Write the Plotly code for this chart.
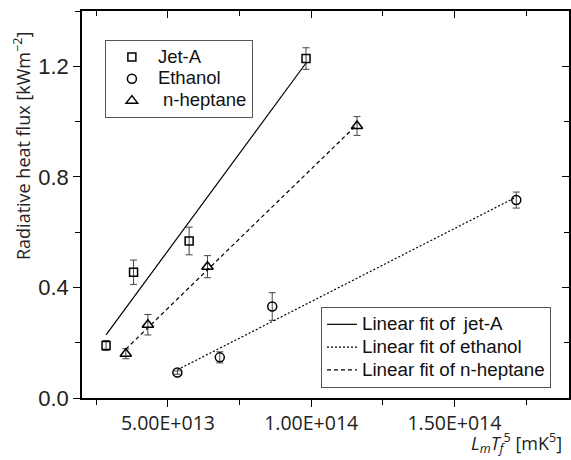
import numpy as np
import plotly.graph_objects as go

# ---- data ----
jet_x = [2.84e13, 3.80e13, 5.74e13, 9.82e13]
jet_y = [0.19, 0.455, 0.568, 1.228]
jet_err = [0.018, 0.044, 0.05, 0.039]

eth_x = [5.33e13, 6.81e13, 8.64e13, 1.716e14]
eth_y = [0.092, 0.147, 0.331, 0.716]
eth_err = [0.006, 0.02, 0.05, 0.029]

hep_x = [3.53e13, 4.30e13, 6.38e13, 1.16e14]
hep_y = [0.16, 0.265, 0.475, 0.984]
hep_err = [0.018, 0.037, 0.04, 0.034]

x_tickvals = [5e13, 1e14, 1.5e14]
x_ticktext = ["5.00E+013", "1.00E+014", "1.50E+014"]
y_tickvals = [0.0, 0.4, 0.8, 1.2]
y_ticktext = ["0.0", "0.4", "0.8", "1.2"]

names = ["Jet-A", "Ethanol", "\u00a0n-heptane"]
fit_names = ["Linear fit of \u2009jet-A", "Linear fit of ethanol", "Linear fit of n-heptane"]

series = [(jet_x, jet_y, jet_err, "square-open", 8),
          (eth_x, eth_y, eth_err, "circle-open", 9),
          (hep_x, hep_y, hep_err, "triangle-up-open", 10)]
dashes = ["solid", "2px,2px", "4px,3px"]


def big(t, px):
    return '<span style="font-size:%gpx">%s</span>' % (px, t)


fig = go.Figure()

for (xs, ys, es, sym, sz), nm in zip(series, names):
    fig.add_trace(go.Scatter(
        x=xs, y=ys, mode="markers", name=big(nm, 18.5), legend="legend",
        marker=dict(symbol=sym, size=sz, color="black", line=dict(width=1.5, color="black")),
        error_y=dict(type="data", array=es, visible=True, color="#444", thickness=1, width=3.5),
    ))

for (xs, ys, es, sym, sz), nm, dsh in zip(series, fit_names, dashes):
    xa = np.array(xs)
    k, b = np.polyfit(xa, np.array(ys), 1)
    xf = np.array([xa.min(), xa.max()])
    fig.add_trace(go.Scatter(
        x=xf, y=k * xf + b, mode="lines", name=big(nm, 18.8), legend="legend2",
        line=dict(color="black", width=1.2, dash=dsh),
    ))

# dummy trace for mirrored (inside) ticks on top/right axes
fig.add_trace(go.Scatter(x=jet_x, y=jet_y, xaxis="x2", yaxis="y2", mode="markers",
                         marker=dict(opacity=0), showlegend=False, hoverinfo="skip"))

xr = [2e13, 1.9e14]
yr = [0, 1.4]

fig.update_layout(
    width=571, height=460,
    margin=dict(l=82, r=2, t=11, b=62),
    paper_bgcolor="white", plot_bgcolor="white",
    showlegend=True,
    xaxis=dict(range=xr, showgrid=False, zeroline=False, showline=True, linecolor="black", linewidth=1.5,
               ticks="outside", ticklen=7, tickwidth=1.3, tickcolor="black",
               tickmode="array", tickvals=x_tickvals, ticktext=x_ticktext,
               tickfont=dict(family="Open Sans", size=19.5, color="#222"),
               minor=dict(ticks="outside", ticklen=5, tickwidth=1.3, tickcolor="black", tick0=0, dtick=2.5e13)),
    yaxis=dict(range=yr, showgrid=False, zeroline=False, showline=True, linecolor="black", linewidth=1.5,
               ticks="outside", ticklen=7, tickwidth=1.3, tickcolor="black",
               tickmode="array", tickvals=y_tickvals, ticktext=y_ticktext,
               tickfont=dict(family="Liberation Sans, Arial", size=22, color="#222"),
               minor=dict(ticks="outside", ticklen=5, tickwidth=1.3, tickcolor="black", tick0=0, dtick=0.2)),
    xaxis2=dict(range=xr, overlaying="x", side="top", showgrid=False, zeroline=False, showline=True,
                linecolor="black", linewidth=1.5, ticks="inside", ticklen=7, tickwidth=1.3, tickcolor="black",
                tickmode="array", tickvals=x_tickvals, showticklabels=False,
                minor=dict(ticks="inside", ticklen=5, tickwidth=1.3, tickcolor="black", tick0=0, dtick=2.5e13)),
    yaxis2=dict(range=yr, overlaying="y", side="right", anchor="x2", showgrid=False, zeroline=False, showline=True,
                linecolor="black", linewidth=1.5, ticks="inside", ticklen=7, tickwidth=1.3, tickcolor="black",
                tickmode="array", tickvals=y_tickvals, showticklabels=False,
                minor=dict(ticks="inside", ticklen=5, tickwidth=1.3, tickcolor="black", tick0=0, dtick=0.2)),
    legend=dict(x=0.047, y=0.925, xanchor="left", yanchor="top", bgcolor="white",
                bordercolor="#555", borderwidth=1, itemwidth=42,
                font=dict(family="Liberation Sans, Arial", size=14.5, color="#111"), tracegroupgap=0),
    legend2=dict(x=0.963, y=0.026, xanchor="right", yanchor="bottom", bgcolor="white",
                 bordercolor="#555", borderwidth=1, itemwidth=30,
                 font=dict(family="Liberation Sans, Arial", size=15.2, color="#111"), tracegroupgap=0),
    annotations=[
        dict(text="Radiative heat flux [kWm<sup>\u22122</sup>]", textangle=-90,
             xref="paper", yref="paper", x=-0.122, y=0.65, xanchor="center", yanchor="middle",
             showarrow=False, font=dict(family="Open Sans", size=18, color="#222")),
        dict(text="<i>L</i><sub><i>m</i></sub><i>T</i><sub><i>f</i></sub><sup>5</sup> [mK<sup>5</sup>]",
             xref="paper", yref="paper", x=0.99, y=-0.158, xanchor="right", yanchor="bottom",
             showarrow=False, font=dict(family="Open Sans", size=18, color="#222")),
    ],
)

fig.write_html("out.html")
